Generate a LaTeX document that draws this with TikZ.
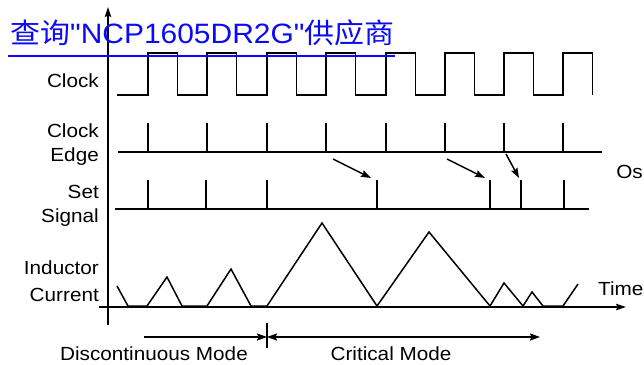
\documentclass[tikz,border=0pt]{standalone}
\usepackage{fontspec}
\setmainfont[FakeStretch=1.09]{Liberation Sans}
\newfontfamily\linkfont[FakeStretch=1.07]{Liberation Sans}
\newfontfamily\cjkfont[FakeStretch=1.07]{Noto Sans CJK SC}
\usetikzlibrary{arrows.meta,positioning,calc}
\definecolor{linkblue}{RGB}{10,10,245}

\begin{document}
\begin{tikzpicture}[x=1pt, y=-1pt,
    wave/.style={line width=1.5pt, line join=miter},
    lbl/.style={font=\fontsize{19}{24}\selectfont, anchor=base east, inner sep=0pt},
    note/.style={font=\fontsize{19}{24}\selectfont, inner sep=0pt},
    arrow/.style={-{Stealth[length=10pt, width=7pt, inset=1.5pt]}, line width=1.5pt},
    twoway/.style={{Stealth[length=10pt, width=7pt, inset=1.5pt]}-{Stealth[length=10pt, width=7pt, inset=1.5pt]}, line width=1.5pt},
    axis/.style={-{Stealth[length=10pt, width=6.5pt, inset=1.5pt]}, line width=1.5pt},
]
\useasboundingbox (0,0) rectangle (644,364);

% Axes
\coordinate (ybot) at (108,325);
\coordinate (ytop) at (108,7);
\coordinate (tleft) at (99,307);
\coordinate (tright) at (626,307);
\draw[axis] (ybot) -- (ytop);
\draw[axis] (tleft) -- (tright);

% Row labels
\node[lbl] (lclk) at (99,87) {Clock};
\node[lbl] (ledgeA) at (99,137) {Clock};
\node[lbl] (ledgeB) at (99,161) {Edge};
\node[lbl] (lsetA) at (99,198) {Set};
\node[lbl] (lsetB) at (99,222) {Signal};
\node[lbl] (lindA) at (99,274) {Inductor};
\node[lbl] (lindB) at (99,301) {Current};

% Clock
\draw[wave] (117,95) \foreach \r in {148,207,267,326,386,445,504,563} {
    -- (\r,95) -- (\r,53) -- (\r+29.5,53) -- (\r+29.5,95) };

% Clock edge
\draw[wave] (118,152) -- (602,152);
\foreach \x in {148,207,267,326,386,445,504,563}
    \draw[wave] (\x,152) -- (\x,123);

% Set signal
\draw[wave] (115,209) -- (589,209);
\foreach \x in {148,206,267,377,490,521,564}
    \draw[wave] (\x,209) -- (\x,180);

% Oscillator arrows
\coordinate (oa1) at (333,159);
\coordinate (ob1) at (371,178);
\coordinate (oa2) at (447,159);
\coordinate (ob2) at (485,178);
\coordinate (oa3) at (506,154);
\coordinate (ob3) at (519,178);
\draw[arrow] (oa1) -- (ob1);
\draw[arrow] (oa2) -- (ob2);
\draw[arrow] (oa3) -- (ob3);
\node[note, anchor=base east] (osc) at (643,178) {Os};

% Inductor current
\draw[wave] (117,286) -- (128,306) -- (147,306) -- (167,277) -- (182,306)
    -- (207,306) -- (231,269) -- (251,306) -- (267,306) -- (322,223)
    -- (377,306) -- (429,232) -- (490,306) -- (504,283) -- (523,306)
    -- (532,292) -- (543,306) -- (563,306) -- (578,284);
\node[note, anchor=base west] (ltime) at (598,295) {Time};

% Modes
\coordinate (mtop) at (267,323);
\coordinate (mbot) at (267,348);
\coordinate (mmid) at (267,337);
\coordinate (mleft) at (144,337);
\coordinate (mright) at (540,337);
\draw[wave] (mtop) -- (mbot);
\draw[arrow] (mleft) -- (mmid);
\draw[twoway] (mmid) -- (mright);
\node[note, anchor=base] (ldcm) at (154,360) {Discontinuous Mode};
\node[note, anchor=base] (lcrm) at (391,360) {Critical Mode};

% Link text
\node[inner sep=0pt, anchor=base west, text=linkblue,
      font=\linkfont\fontsize{28}{30}\selectfont] (wmark) at (10,43)
    {{\cjkfont 查询}"NCP1605DR2G"{\cjkfont 供应商}};
\coordinate (ulA) at (8,56);
\coordinate (ulB) at (395,56);
\draw[linkblue, line width=1.8pt] (ulA) -- (ulB);

\end{tikzpicture}
\end{document}
